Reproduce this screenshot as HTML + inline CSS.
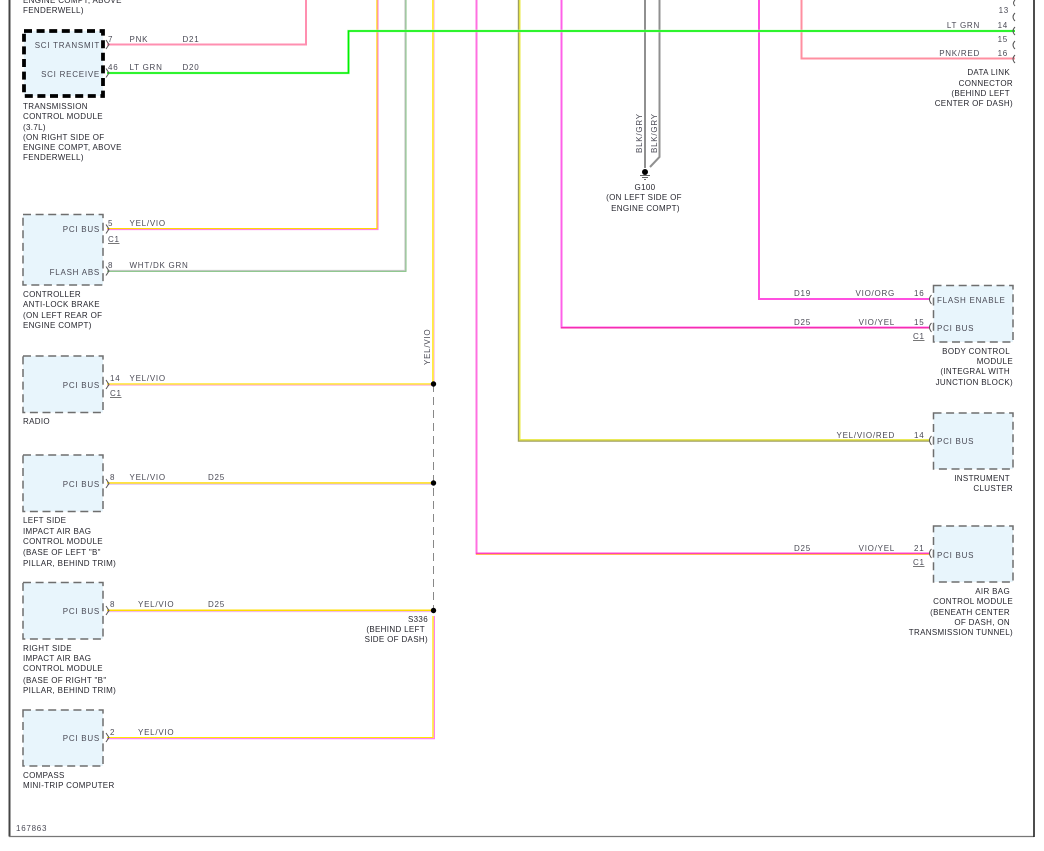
<!DOCTYPE html>
<html><head><meta charset="utf-8"><style>
html,body{margin:0;padding:0;background:#fff;width:1044px;height:851px;overflow:hidden}
svg{display:block}
text{font-family:"Liberation Sans",sans-serif;font-size:8px;letter-spacing:.75px;fill:#4a4a55}
.b{fill:#26262e;letter-spacing:.33px}
.w{fill:none;stroke-linejoin:miter}
.m{fill:#e8f5fc;stroke:#6e6e6e;stroke-width:1.5;stroke-dasharray:8 4.6}
.c{fill:none;stroke:#555;stroke-width:1}
.r{text-anchor:end}
.mid{text-anchor:middle}
</style></head><body>
<svg width="1044" height="851" viewBox="0 0 1044 851" xmlns="http://www.w3.org/2000/svg">
<path d="M9.5 0V836.5" stroke="#444" stroke-width="2" fill="none"/>
<path d="M9 836.5H1034" stroke="#777" stroke-width="1.2" fill="none"/>
<path d="M1034 0V837" stroke="#222" stroke-width="1.6" fill="none"/>

<!-- boxes -->
<rect x="24" y="31" width="79" height="65" fill="#e8f5fc" stroke="#000" stroke-width="3.8" stroke-dasharray="8 4.6"/>
<rect class="m" x="23" y="214.5" width="80" height="70.5"/>
<rect class="m" x="23" y="356" width="80" height="56.5"/>
<rect class="m" x="23" y="455" width="80" height="56.5"/>
<rect class="m" x="23" y="582.5" width="80" height="56.5"/>
<rect class="m" x="23" y="710" width="80" height="56"/>
<rect class="m" x="933.5" y="285.5" width="79.5" height="56.5"/>
<rect class="m" x="933.5" y="413" width="79.5" height="56"/>
<rect class="m" x="933.5" y="526" width="79.5" height="56"/>

<!-- wires -->
<path class="w" d="M107 44.5H306V0" stroke="#ff8fb0" stroke-width="2"/>
<path class="w" d="M107 229H377V0" stroke="#ffd800" stroke-width="1.3" transform="translate(0,-.4)"/>
<path class="w" d="M107 229.6H378V0" stroke="#ff80e0" stroke-width="1.1"/>
<path class="w" d="M107 270.5H405V0" stroke="#c8c8c8" stroke-width="1.2"/>
<path class="w" d="M107 271.4H406V0" stroke="#80c080" stroke-width="1"/>
<path class="w" d="M433 0V383" stroke="#ffe800" stroke-width="1.5"/>
<path class="w" d="M434.3 0V383" stroke="#ffc8f0" stroke-width="1.2"/>
<path d="M433.5 384V610" stroke="#888" stroke-width="1" stroke-dasharray="8 5" fill="none"/>
<path class="w" d="M107 384H433" stroke="#ffe000" stroke-width="1.3"/>
<path class="w" d="M107 385.2H433" stroke="#ffb8d8" stroke-width="1.2"/>
<path class="w" d="M107 483H433" stroke="#ffdc00" stroke-width="1.5"/>
<path class="w" d="M107 484.3H433" stroke="#e0c0f0" stroke-width="1"/>
<path class="w" d="M107 610.3H433" stroke="#ffdc00" stroke-width="1.5"/>
<path class="w" d="M107 611.6H433" stroke="#f0b0e0" stroke-width="1"/>
<path class="w" d="M107 737.6H433V616" stroke="#ffe800" stroke-width="1.3"/>
<path class="w" d="M107 738.6H434.4V616" stroke="#ff80f0" stroke-width="1.2"/>
<path class="w" d="M476.5 0V553.5H930" stroke="#ff70e0" stroke-width="2"/>
<path class="w" d="M476 553.2H930" stroke="#ff20c0" stroke-width="1"/>
<path class="w" d="M476 554.4H930" stroke="#ffb040" stroke-width="1"/>
<path class="w" d="M518.6 0V441H930" stroke="#a0a060" stroke-width="1.6"/>
<path class="w" d="M519.8 0V439.8H930" stroke="#e8e840" stroke-width="1.4"/>
<path class="w" d="M561.5 0V327.5H930" stroke="#ff60e8" stroke-width="2"/>
<path class="w" d="M561 327.9H930" stroke="#f01090" stroke-width="1"/>
<path class="w" d="M645 0V168" stroke="#909090" stroke-width="2"/>
<path class="w" d="M659.5 0V157L650 167" stroke="#909090" stroke-width="2"/>
<path class="w" d="M759 0V299H930" stroke="#ff50e0" stroke-width="2"/>
<path class="w" d="M801.5 0V58.5H1015" stroke="#ff8fa0" stroke-width="2"/>
<path class="w" d="M107 73H348.5V31H1015" stroke="#b8ffb8" stroke-width="2.6"/>
<path class="w" d="M107 73H348.5V31H1015" stroke="#00f000" stroke-width="1.6"/>

<!-- connector marks -->
<path class="c" d="M106 40l3 4.5l-3 4.5M106 68.5l3 4.5l-3 4.5M106 224.5l3 4.5l-3 4.5M106 266.5l3 4.5l-3 4.5M106 380l3 4.5l-3 4.5M106 479l3 4.5l-3 4.5M106 606l3 4.5l-3 4.5M106 733l3 4.5l-3 4.5"/>
<path class="c" d="M931.5 295q-4 4 0 9M931.5 323q-4 4 0 9M931.5 436q-4 4 0 9M931.5 549q-4 4 0 9"/>
<path class="c" d="M1015 0q-3 3 0 6M1015 13q-4 4 0 8M1015 27q-4 4 0 8M1015 41q-4 4 0 8M1015 55q-4 4 0 8"/>

<!-- splices & ground -->
<circle cx="433.5" cy="384" r="2.7" fill="#000"/>
<circle cx="433.5" cy="483" r="2.7" fill="#000"/>
<circle cx="433.5" cy="610.5" r="2.7" fill="#000"/>
<circle cx="645" cy="172" r="3" fill="#000"/>
<path d="M640 175.5h10M642 177.5h6M644 179.5h2" stroke="#666" stroke-width="1"/>

<!-- module labels -->
<text class="b" x="23" y="13">FENDERWELL)</text>
<text class="b" x="23" y="3">ENGINE COMPT, ABOVE</text>
<text class="r" x="100" y="48">SCI TRANSMIT</text>
<text class="r" x="100" y="77">SCI RECEIVE</text>
<text class="b" x="23" y="109">TRANSMISSION</text>
<text class="b" x="23" y="119">CONTROL MODULE</text>
<text class="b" x="23" y="130">(3.7L)</text>
<text class="b" x="23" y="140">(ON RIGHT SIDE OF</text>
<text class="b" x="23" y="150">ENGINE COMPT, ABOVE</text>
<text class="b" x="23" y="160">FENDERWELL)</text>

<text class="r" x="100" y="232">PCI BUS</text>
<text class="r" x="100" y="275">FLASH ABS</text>
<text class="b" x="23" y="297">CONTROLLER</text>
<text class="b" x="23" y="307">ANTI-LOCK BRAKE</text>
<text class="b" x="23" y="318">(ON LEFT REAR OF</text>
<text class="b" x="23" y="328">ENGINE COMPT)</text>

<text class="r" x="100" y="388">PCI BUS</text>
<text class="b" x="23" y="424">RADIO</text>

<text class="r" x="100" y="487">PCI BUS</text>
<text class="b" x="23" y="523">LEFT SIDE</text>
<text class="b" x="23" y="534">IMPACT AIR BAG</text>
<text class="b" x="23" y="544">CONTROL MODULE</text>
<text class="b" x="23" y="555">(BASE OF LEFT "B"</text>
<text class="b" x="23" y="566">PILLAR, BEHIND TRIM)</text>

<text class="r" x="100" y="614">PCI BUS</text>
<text class="b" x="23" y="651">RIGHT SIDE</text>
<text class="b" x="23" y="661">IMPACT AIR BAG</text>
<text class="b" x="23" y="671">CONTROL MODULE</text>
<text class="b" x="23" y="683">(BASE OF RIGHT "B"</text>
<text class="b" x="23" y="693">PILLAR, BEHIND TRIM)</text>

<text class="r" x="100" y="741">PCI BUS</text>
<text class="b" x="23" y="778">COMPASS</text>
<text class="b" x="23" y="788">MINI-TRIP COMPUTER</text>
<text x="16" y="831">167863</text>

<!-- wire labels left -->
<text x="108" y="42">7</text><text x="129.5" y="42">PNK</text><text x="182.5" y="42">D21</text>
<text x="108" y="70">46</text><text x="129.5" y="70">LT GRN</text><text x="182.5" y="70">D20</text>
<text x="108" y="226">5</text><text x="129.5" y="226">YEL/VIO</text>
<text x="108" y="242">C1</text><path d="M108 243.5h11.5" stroke="#555" stroke-width=".8"/>
<text x="108" y="268">8</text><text x="129.5" y="268">WHT/DK GRN</text>
<text x="110" y="381">14</text><text x="129.5" y="381">YEL/VIO</text>
<text x="110" y="396">C1</text><path d="M110 397.5h11.5" stroke="#555" stroke-width=".8"/>
<text x="110" y="480">8</text><text x="129.5" y="480">YEL/VIO</text><text x="208" y="480">D25</text>
<text x="110" y="607">8</text><text x="138" y="607">YEL/VIO</text><text x="208" y="607">D25</text>
<text x="110" y="735">2</text><text x="138" y="735">YEL/VIO</text>

<text class="b r" x="428" y="622">S336</text>
<text class="b r" x="425" y="632">(BEHIND LEFT</text>
<text class="b r" x="428" y="642">SIDE OF DASH)</text>
<text transform="translate(430,365) rotate(-90)">YEL/VIO</text>
<text transform="translate(642,153) rotate(-90)">BLK/GRY</text>
<text transform="translate(657,153) rotate(-90)">BLK/GRY</text>
<text class="b mid" x="645" y="190">G100</text>
<text class="b mid" x="644" y="200">(ON LEFT SIDE OF</text>
<text class="b mid" x="645.5" y="211">ENGINE COMPT)</text>

<!-- data link -->
<text class="r" x="1009" y="13">13</text>
<text class="r" x="980" y="28">LT GRN</text><text class="r" x="1008" y="28">14</text>
<text class="r" x="1008" y="42">15</text>
<text class="r" x="980" y="56">PNK/RED</text><text class="r" x="1008" y="56">16</text>
<text class="b r" x="1010" y="75">DATA LINK</text>
<text class="b r" x="1013" y="86">CONNECTOR</text>
<text class="b r" x="1010" y="96">(BEHIND LEFT</text>
<text class="b r" x="1013" y="106">CENTER OF DASH)</text>

<!-- right labels -->
<text x="794" y="296">D19</text><text class="r" x="895" y="296">VIO/ORG</text><text x="914" y="296">16</text>
<text x="794" y="325">D25</text><text class="r" x="895" y="325">VIO/YEL</text><text x="914" y="325">15</text>
<text x="913" y="339">C1</text><path d="M913 340.5h11.5" stroke="#555" stroke-width=".8"/>
<text x="937" y="303">FLASH ENABLE</text>
<text x="937" y="331">PCI BUS</text>
<text class="b r" x="1010" y="354">BODY CONTROL</text>
<text class="b r" x="1013" y="364">MODULE</text>
<text class="b r" x="1010" y="374">(INTEGRAL WITH</text>
<text class="b r" x="1013" y="385">JUNCTION BLOCK)</text>

<text class="r" x="895" y="438">YEL/VIO/RED</text><text x="914" y="438">14</text>
<text x="937" y="444">PCI BUS</text>
<text class="b r" x="1010" y="481">INSTRUMENT</text>
<text class="b r" x="1013" y="491">CLUSTER</text>

<text x="794" y="551">D25</text><text class="r" x="895" y="551">VIO/YEL</text><text x="914" y="551">21</text>
<text x="913" y="565">C1</text><path d="M913 566.5h11.5" stroke="#555" stroke-width=".8"/>
<text x="937" y="558">PCI BUS</text>
<text class="b r" x="1010" y="594">AIR BAG</text>
<text class="b r" x="1013" y="604">CONTROL MODULE</text>
<text class="b r" x="1010" y="615">(BENEATH CENTER</text>
<text class="b r" x="1010" y="625">OF DASH, ON</text>
<text class="b r" x="1013" y="635">TRANSMISSION TUNNEL)</text>
</svg>
</body></html>
